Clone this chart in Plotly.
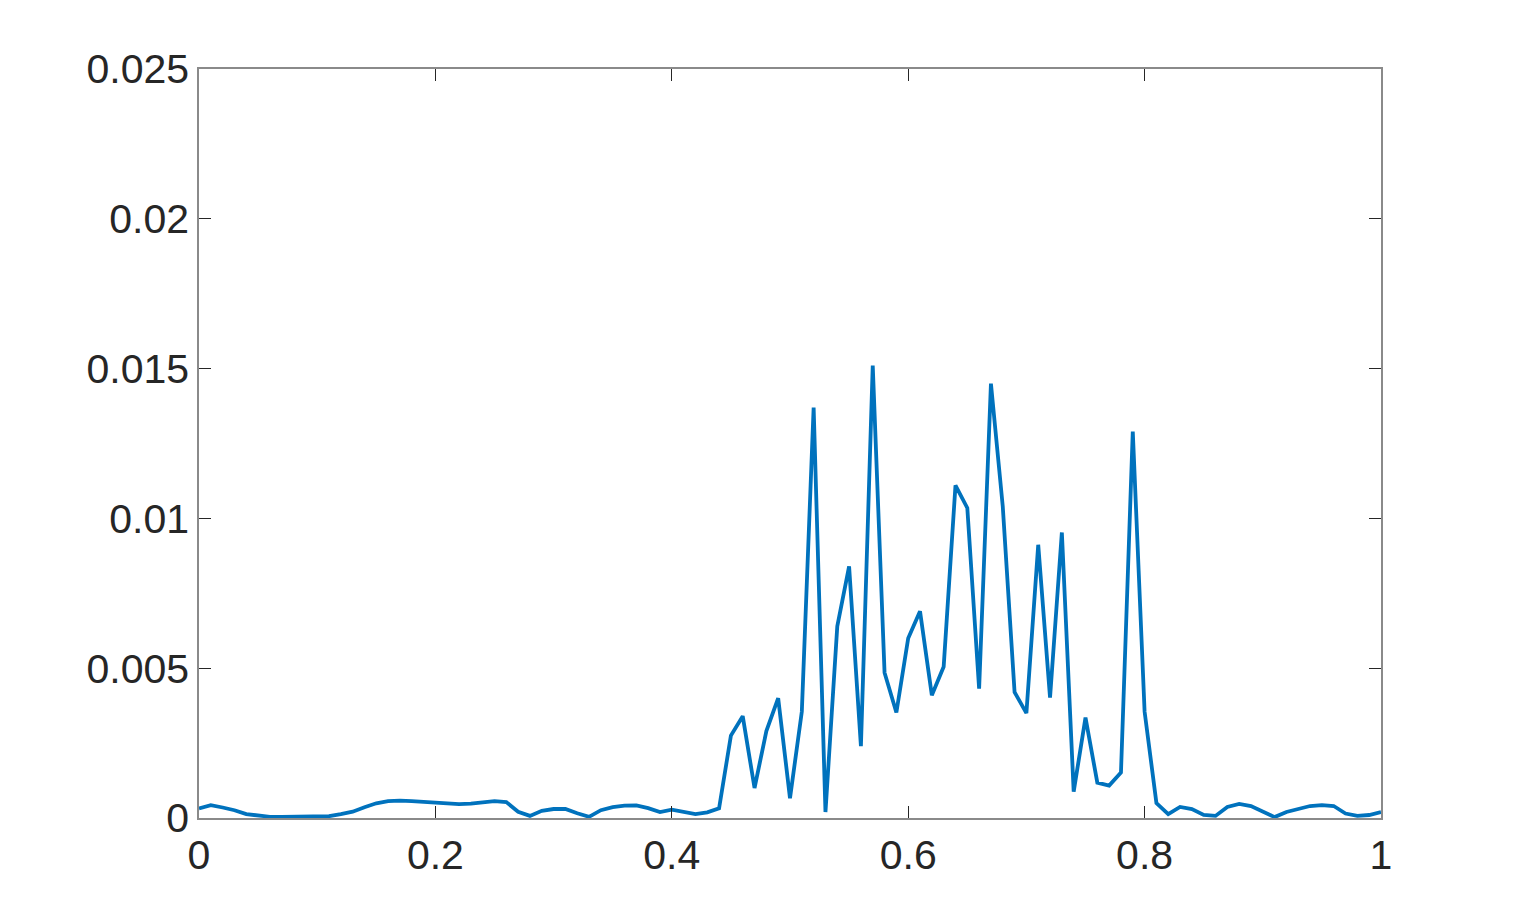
"""Line plot recreation: spectrum-like curve on [0, 1]."""

import plotly.graph_objects as go

x_vals = [i / 100 for i in range(101)]

y_vals = [
    0.00032, 0.00043, 0.00035, 0.00026, 0.00013, 0.00007, 0.00004, 0.00004, 0.00005, 0.00006,
    0.00005, 0.00006, 0.00013, 0.00021, 0.00036, 0.00049, 0.00056, 0.00058, 0.00056, 0.00053,
    0.00050, 0.00047, 0.00046, 0.00048, 0.00052, 0.00056, 0.00053, 0.00021, 0.00007, 0.00024,
    0.00030, 0.00030, 0.00016, 0.00004, 0.00026, 0.00036, 0.00041, 0.00042, 0.00033, 0.00020,
    0.00028, 0.00020, 0.00013, 0.00019, 0.00032, 0.00275, 0.00340, 0.00100, 0.00290, 0.00400,
    0.00066, 0.00355, 0.01370, 0.00020, 0.00640, 0.00840, 0.00240, 0.01510, 0.00485, 0.00352,
    0.00600, 0.00690, 0.00410, 0.00505, 0.01110, 0.01035, 0.00432, 0.01450, 0.01040, 0.00420,
    0.00350, 0.00912, 0.00402, 0.00953, 0.00088, 0.00335, 0.00118, 0.00108, 0.00152, 0.01290,
    0.00355, 0.00050, 0.00013, 0.00037, 0.00030, 0.00010, 0.00007, 0.00037, 0.00047, 0.00040,
    0.00020, 0.00003, 0.00020, 0.00030, 0.00040, 0.00043, 0.00040, 0.00015, 0.00007, 0.00010,
    0.00020,
]

x_ticks = [0, 0.2, 0.4, 0.6, 0.8, 1]
x_tick_labels = ["0", "0.2", "0.4", "0.6", "0.8", "1"]
y_ticks = [0, 0.005, 0.01, 0.015, 0.02, 0.025]
y_tick_labels = ["0", "0.005", "0.01", "0.015", "0.02", "0.025"]

fig = go.Figure()
fig.add_trace(
    go.Scatter(
        x=x_vals,
        y=y_vals,
        mode="lines",
        line=dict(color="#0072BD", width=3.8),
        showlegend=False,
    )
)

axis_style = dict(
    showgrid=False,
    zeroline=False,
    showline=True,
    linecolor="#8a8a8a",
    linewidth=1.5,
    mirror="ticks",
    ticks="inside",
    ticklen=12,
    tickwidth=1,
    tickcolor="#262626",
    tickfont=dict(family="Liberation Sans, Arial, sans-serif", size=41, color="#262626"),
)

fig.update_xaxes(range=[0, 1], tickvals=x_ticks, ticktext=x_tick_labels, **axis_style)
fig.update_yaxes(range=[0, 0.025], tickvals=y_ticks, ticktext=y_tick_labels, **axis_style)

# page body adds an 8px margin, so size the figure to fit inside it
fig.update_layout(
    width=1511,
    height=903,
    margin=dict(l=191, r=138, t=61, b=93),
    plot_bgcolor="white",
    paper_bgcolor="white",
)

fig.write_html("out.html")
